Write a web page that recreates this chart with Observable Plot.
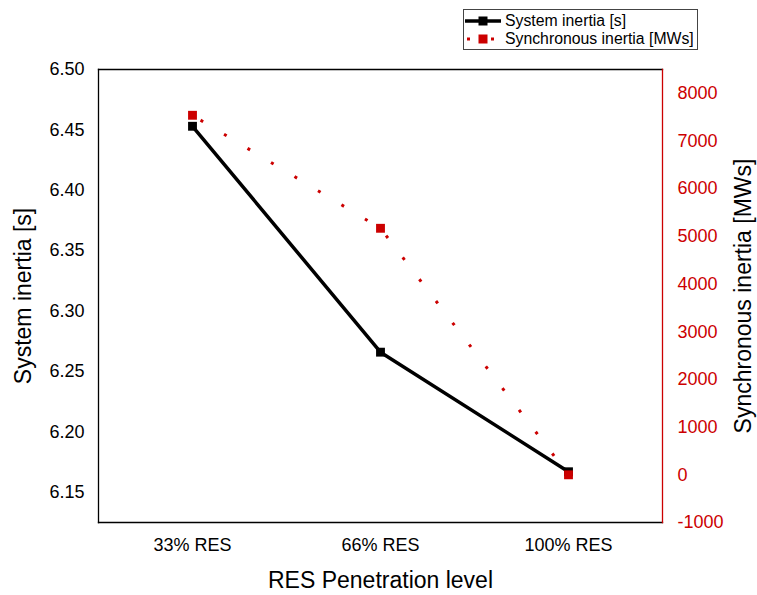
<!DOCTYPE html>
<html><head><meta charset="utf-8">
<script src="https://cdn.jsdelivr.net/npm/d3@7"></script>
<script src="https://cdn.jsdelivr.net/npm/@observablehq/plot@0.6"></script>
<style>
body{margin:0;background:#fff;}
#wrap{position:relative;width:757px;height:595px;font-family:"Liberation Sans",Arial,sans-serif;}
#chart{position:absolute;left:0;top:0;}
#legend{position:absolute;left:463px;top:9px;width:233px;height:39px;border:1px solid #444;background:#fff;font-size:15.8px;color:#000;}
.row{position:absolute;left:1px;height:18px;display:flex;align-items:center;white-space:nowrap;}
.row svg{margin-right:4px;}
</style></head>
<body>
<div id="wrap">
  <div id="chart"></div>
  <div id="legend">
    <div class="row" style="top:2px"><svg width="36" height="12"><line x1="0" x2="36" y1="6" y2="6" stroke="#000" stroke-width="3.5"/><rect x="13.5" y="1.5" width="9" height="9" fill="#000"/></svg><span>System inertia [s]</span></div>
    <div class="row" style="top:20px"><svg width="36" height="12"><rect x="2" y="4.5" width="3" height="3" fill="#cc0000"/><rect x="13.5" y="1.5" width="9" height="9" fill="#cc0000"/><rect x="26" y="4.5" width="3" height="3" fill="#cc0000"/></svg><span>Synchronous inertia [MWs]</span></div>
  </div>
</div>
<script>
const categories = ["33% RES", "66% RES", "100% RES"];
const systemInertia = [6.453, 6.266, 6.167];
const syncInertia = [7540, 5170, 0];
const leftTicks = [6.15, 6.20, 6.25, 6.30, 6.35, 6.40, 6.45, 6.50];
const rightTicks = [-1000, 0, 1000, 2000, 3000, 4000, 5000, 6000, 7000, 8000];
const leftDomain = [6.125, 6.5];
const rightDomain = [-1000, 8500];
const xTitle = "RES Penetration level";
const yTitle = "System inertia [s]";
const y2Title = "Synchronous inertia [MWs]";

const red = "#cc0000";
const toLeft = s => leftDomain[0] + (s - rightDomain[0]) * (leftDomain[1] - leftDomain[0]) / (rightDomain[1] - rightDomain[0]);
const data = categories.map((c, i) => ({cat: c, sys: systemInertia[i], sync: syncInertia[i]}));

const chart = Plot.plot({
  width: 757, height: 595,
  marginLeft: 98, marginRight: 95, marginTop: 69, marginBottom: 73,
  style: {fontFamily: '"Liberation Sans", Arial, sans-serif', background: "white", overflow: "visible"},
  x: {type: "band", domain: categories, padding: 0},
  y: {domain: leftDomain},
  marks: [
    Plot.frame({anchor: "left", stroke: "black", strokeWidth: 1.3}),
    Plot.frame({anchor: "top", stroke: "black", strokeWidth: 1.3}),
    Plot.frame({anchor: "bottom", stroke: "black", strokeWidth: 1.3}),
    Plot.frame({anchor: "right", stroke: red, strokeWidth: 1.3}),
    Plot.axisY(leftTicks, {tickSize: 0, tickPadding: 14, tickFormat: d3.format(".2f"), fontSize: 18, label: null}),
    Plot.text(rightTicks, {y: toLeft, text: d => String(d), frameAnchor: "right", dx: 15, textAnchor: "start", fill: red, fontSize: 18}),
    Plot.axisX({tickSize: 0, tickPadding: 16, fontSize: 18, label: null}),
    Plot.text([xTitle], {text: d => d, frameAnchor: "bottom", dy: 58.5, textAnchor: "middle", lineAnchor: "middle", fontSize: 23}),
    Plot.text([yTitle], {text: d => d, frameAnchor: "left", dx: -75, rotate: -90, textAnchor: "middle", lineAnchor: "middle", fontSize: 23}),
    Plot.text([y2Title], {text: d => d, frameAnchor: "right", dx: 81, rotate: -90, textAnchor: "middle", lineAnchor: "middle", fontSize: 23}),
    Plot.lineY(data, {x: "cat", y: "sys", stroke: "black", strokeWidth: 3.5, strokeLinecap: "butt", strokeLinejoin: "round"}),
    Plot.dot(data, {x: "cat", y: "sys", symbol: "square", r: 5, fill: "black"}),
    Plot.lineY(data, {x: "cat", y: d => toLeft(d.sync), stroke: red, strokeWidth: 3, strokeLinecap: "butt", strokeDasharray: "3 24.4", strokeDashoffset: 18}),
    Plot.dot(data, {x: "cat", y: d => toLeft(d.sync), symbol: "square", r: 5, fill: red})
  ]
});
document.getElementById("chart").appendChild(chart);
</script>
</body></html>
